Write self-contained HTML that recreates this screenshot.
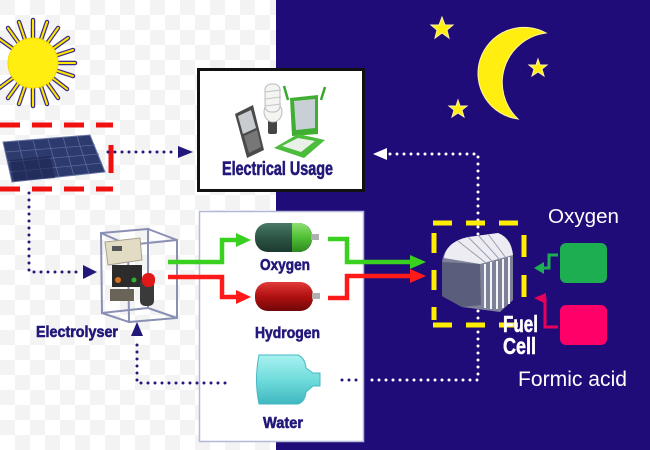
<!DOCTYPE html>
<html><head><meta charset="utf-8"><style>
html,body{margin:0;padding:0;width:650px;height:450px;overflow:hidden;background:#fff}
svg{display:block}
.lbl{font-family:"Liberation Sans",sans-serif;font-weight:bold;fill:#22187a;stroke:#22187a;stroke-width:0.6}
</style></head><body>
<svg width="650" height="450" viewBox="0 0 650 450" xmlns="http://www.w3.org/2000/svg">
<defs>
<pattern id="chk" width="30" height="30" patternUnits="userSpaceOnUse">
<rect width="30" height="30" fill="#ffffff"/>
<rect width="15" height="15" fill="#f3f3f3"/>
<rect x="15" y="15" width="15" height="15" fill="#f3f3f3"/>
</pattern>
<linearGradient id="gTank" x1="0" y1="0" x2="0" y2="1">
<stop offset="0" stop-color="#4a7a66"/><stop offset="0.5" stop-color="#2c5545"/><stop offset="1" stop-color="#1d3a2f"/></linearGradient>
<linearGradient id="gTankL" x1="0" y1="0" x2="0" y2="1">
<stop offset="0" stop-color="#8ee070"/><stop offset="0.5" stop-color="#4fbf35"/><stop offset="1" stop-color="#2f8a20"/></linearGradient>
<linearGradient id="rTank" x1="0" y1="0" x2="0" y2="1">
<stop offset="0" stop-color="#e23a3a"/><stop offset="0.5" stop-color="#b01010"/><stop offset="1" stop-color="#700808"/></linearGradient>
<linearGradient id="wTank" x1="0" y1="0" x2="0" y2="1">
<stop offset="0" stop-color="#a8f2f0"/><stop offset="0.5" stop-color="#70dcdc"/><stop offset="1" stop-color="#3fb8c0"/></linearGradient>
</defs>

<!-- background -->
<rect x="0" y="0" width="650" height="450" fill="url(#chk)"/>
<rect x="276" y="0" width="374" height="450" fill="#200c79"/>

<!-- sun -->
<g stroke-linecap="round">
<g stroke="#3c2f86" stroke-width="4.5" fill="none">
<path d="M33 63 L33 20 M33 63 L47 22 M33 63 L58 28 M33 63 L68 38 M33 63 L73 50 M33 63 L75 63 M33 63 L73 76 M33 63 L67 89 M33 63 L58 98 M33 63 L47 104 M33 63 L33 106 M33 63 L19 104 M33 63 L8 98 M33 63 L-2 89 M33 63 L19 22 M33 63 L8 28 M33 63 L-2 38"/>
</g>
<g stroke="#ffe600" stroke-width="2" fill="none">
<path d="M33 63 L33 20 M33 63 L47 22 M33 63 L58 28 M33 63 L68 38 M33 63 L73 50 M33 63 L75 63 M33 63 L73 76 M33 63 L67 89 M33 63 L58 98 M33 63 L47 104 M33 63 L33 106 M33 63 L19 104 M33 63 L8 98 M33 63 L-2 89 M33 63 L19 22 M33 63 L8 28 M33 63 L-2 38"/>
</g>
<circle cx="33" cy="63" r="25" fill="#ffee10" stroke="#f5d800" stroke-width="1"/>
</g>

<!-- solar panel -->
<polygon points="3,142 90,135 105,172 12,182" fill="#2c3a6e" stroke="#6a78a8" stroke-width="1"/>
<g stroke="#5a6a9a" stroke-width="0.8">
<line x1="6" y1="152" x2="95" y2="145"/><line x1="8" y1="162" x2="99" y2="154"/><line x1="10" y1="172" x2="102" y2="163"/>
<line x1="18" y1="141" x2="28" y2="180"/><line x1="33" y1="140" x2="43" y2="179"/><line x1="48" y1="139" x2="59" y2="177"/><line x1="63" y1="137" x2="74" y2="176"/><line x1="77" y1="136" x2="89" y2="174"/>
</g>
<polygon points="10,160 50,156 55,178 14,181" fill="#1c2550" opacity="0.6"/>

<!-- red dashed box -->
<g stroke="#f01010" stroke-width="5" fill="none">
<line x1="0" y1="125" x2="113" y2="125" stroke-dasharray="20 12"/>
<line x1="0" y1="189" x2="113" y2="189" stroke-dasharray="20 12"/>
<line x1="111" y1="145" x2="111" y2="173"/>
</g>

<!-- dotted arrows navy -->
<g stroke="#22187a" stroke-width="3" stroke-linecap="round" stroke-dasharray="0 7" fill="none">
<line x1="108" y1="152" x2="178" y2="152"/>
<path d="M29 193 V272 H82"/>
<path d="M232 383 H137 V338"/>
<line x1="364" y1="380" x2="342" y2="380"/>
</g>
<g fill="#22187a">
<polygon points="178,146 193,152 178,158"/>
<polygon points="83,265 97,272 83,279"/>
<polygon points="131,336 137,322 143,336"/>
<polygon points="339,374 325,380 339,386"/>
</g>

<!-- dotted white lines -->
<g stroke="#ffffff" stroke-width="3" stroke-linecap="round" stroke-dasharray="0 7" fill="none">
<path d="M390 154 H478 V380 H366"/>
</g>
<polygon points="387,148 373,154 387,160" fill="#ffffff"/>

<!-- electrical usage box -->
<rect x="198.5" y="69.5" width="165" height="121" fill="#ffffff" stroke="#111111" stroke-width="3"/>
<!-- phone -->
<polygon points="235,114 253,105 264,150 247,158" fill="#4a4a4a"/>
<polygon points="238,116 251,110 256,128 243,134" fill="#c8ccd0"/>
<polygon points="244,136 257,130 261,147 249,153" fill="#777"/>
<!-- bulb -->
<rect x="268" y="120" width="9" height="14" fill="#444" rx="2"/>
<g fill="#f4f4f0" stroke="#b8bcc0" stroke-width="1">
<ellipse cx="273" cy="112" rx="9" ry="10"/>
<rect x="265" y="84" width="15" height="28" rx="6"/>
</g>
<g stroke="#c0c4c8" stroke-width="1"><line x1="265" y1="92" x2="281" y2="90"/><line x1="265" y1="99" x2="281" y2="97"/><line x1="265" y1="106" x2="281" y2="104"/></g>
<!-- laptop -->
<line x1="288" y1="100" x2="284" y2="86" stroke="#3aa830" stroke-width="2.5"/>
<line x1="321" y1="100" x2="325" y2="87" stroke="#3aa830" stroke-width="2.5"/>
<polygon points="290,98 318,95 318,134 292,136" fill="#3fae32"/>
<polygon points="294,101 315,99 315,128 296,130" fill="#c8d0d6"/>
<polygon points="274,148 298,134 325,140 304,158" fill="#4cbc3c"/>
<polygon points="282,146 298,138 315,141 301,152" fill="#e8f0e8"/>

<text x="222" y="175" class="lbl" font-size="19" textLength="111" lengthAdjust="spacingAndGlyphs">Electrical Usage</text>

<!-- lower white box -->
<rect x="199.5" y="211.5" width="164" height="230" fill="#ffffff" stroke="#b4b8d8" stroke-width="1.5"/>

<!-- navy dots re-draw over box -->
<g stroke="#22187a" stroke-width="3" stroke-linecap="round" stroke-dasharray="0 7" fill="none">
<line x1="204" y1="383" x2="232" y2="383"/>
<line x1="342" y1="380" x2="362" y2="380"/>
</g>

<!-- tanks -->
<rect x="255" y="223" width="57" height="29" rx="13" fill="url(#gTank)"/>
<path d="M292 223 H299 A13 14.5 0 0 1 299 252 H292 Z" fill="url(#gTankL)"/>
<rect x="311" y="234" width="8" height="6" fill="#b0b0b0"/>
<rect x="255" y="282" width="58" height="29" rx="13" fill="url(#rTank)"/>
<rect x="312" y="293" width="8" height="6" fill="#b0b0b0"/>
<!-- water bottle -->
<path d="M259 355 H298 Q305 358 306 368 L313 373 H320 V386 H313 L306 392 Q305 402 298 404 H259 Q254 380 259 355 Z" fill="url(#wTank)" stroke="#46b8c4" stroke-width="1"/>

<text x="260" y="270" class="lbl" font-size="16" textLength="50" lengthAdjust="spacingAndGlyphs">Oxygen</text>
<text x="255" y="338" class="lbl" font-size="16" textLength="65" lengthAdjust="spacingAndGlyphs">Hydrogen</text>
<text x="263" y="428" class="lbl" font-size="16" textLength="40" lengthAdjust="spacingAndGlyphs">Water</text>

<!-- electrolyser -->
<g fill="none" stroke="#8a90b4" stroke-width="2">
<polygon points="101,233 148,229 148,308 102,313"/>
<polygon points="128,245 177,240 177,318 129,322"/>
<line x1="101" y1="233" x2="128" y2="245"/><line x1="148" y1="229" x2="177" y2="240"/>
<line x1="102" y1="313" x2="129" y2="322"/><line x1="148" y1="308" x2="177" y2="318"/>
</g>
<polygon points="105,242 140,238 142,260 108,265" fill="#e2dcc4" stroke="#a8a090" stroke-width="1"/>
<rect x="112" y="246" width="10" height="5" fill="#555"/>
<rect x="112" y="265" width="30" height="22" fill="#2c2c2c"/>
<rect x="110" y="289" width="24" height="12" fill="#6a6458"/>
<rect x="140" y="278" width="14" height="28" rx="5" fill="#3a3a3a"/>
<rect x="142" y="273" width="13" height="14" rx="6" fill="#e01818"/>
<circle cx="134" cy="280" r="2.5" fill="#30b030"/>
<circle cx="118" cy="280" r="3" fill="#d87020"/>

<text x="36" y="337" class="lbl" font-size="16" textLength="82" lengthAdjust="spacingAndGlyphs">Electrolyser</text>

<!-- green/red pipes -->
<g fill="none" stroke-width="4.5">
<path d="M168 262 H222 V240 H238" stroke="#3ad020"/>
<path d="M168 277 H222 V297 H238" stroke="#ff1a1a"/>
<path d="M328 239 H347 V262 H412" stroke="#3ad020"/>
<path d="M328 298 H347 V276 H412" stroke="#ff1a1a"/>
</g>
<polygon points="236,233 251,240 236,247" fill="#3ad020"/>
<polygon points="236,290 251,297 236,304" fill="#ff1a1a"/>
<polygon points="410,255 426,262 410,269" fill="#3ad020"/>
<polygon points="410,269 426,276 410,283" fill="#ff1a1a"/>

<!-- fuel cell -->
<path d="M442 262 Q444 244 466 238 L498 233 Q512 238 513 256 L513 300 L500 312 L462 307 L442 296 Z" fill="#7e8298"/>
<path d="M444 258 Q446 242 468 237 L498 233 Q511 238 513 255 L480 264 Z" fill="#ececf2"/>
<path d="M442 262 L480 264 L481 305 L462 307 L442 296 Z" fill="#5a5e7c"/>
<g stroke="#f4f4f8" stroke-width="2">
<line x1="485" y1="264" x2="485" y2="308"/><line x1="491" y1="262" x2="491" y2="309"/><line x1="497" y1="261" x2="497" y2="309"/><line x1="503" y1="259" x2="503" y2="308"/><line x1="509" y1="257" x2="509" y2="304"/>
</g>
<g stroke="#9a9eb0" stroke-width="1">
<line x1="458" y1="241" x2="486" y2="263"/><line x1="468" y1="237" x2="493" y2="262"/><line x1="478" y1="235" x2="500" y2="260"/><line x1="488" y1="234" x2="506" y2="258"/>
</g>

<!-- yellow dashed box -->
<g stroke="#ffee00" stroke-width="5" fill="none">
<line x1="433" y1="223" x2="525" y2="223" stroke-dasharray="19 14"/>
<line x1="433" y1="325" x2="525" y2="325" stroke-dasharray="19 14"/>
<line x1="434" y1="233" x2="434" y2="320" stroke-dasharray="20 17"/>
<line x1="524" y1="235" x2="524" y2="310" stroke-dasharray="22 18"/>
</g>

<text x="503" y="332" font-family="Liberation Sans,sans-serif" font-weight="bold" font-size="23" fill="#ffffff" stroke="#ffffff" stroke-width="0.5" textLength="35" lengthAdjust="spacingAndGlyphs">Fuel</text>
<text x="503" y="354" font-family="Liberation Sans,sans-serif" font-weight="bold" font-size="23" fill="#ffffff" stroke="#ffffff" stroke-width="0.5" textLength="33" lengthAdjust="spacingAndGlyphs">Cell</text>

<!-- reactant boxes -->
<rect x="560" y="243" width="47" height="40" rx="6" fill="#1eae52"/>
<rect x="560" y="305" width="47" height="40" rx="6" fill="#ff0068"/>
<path d="M558 255 H549 V268 H542" fill="none" stroke="#1eae52" stroke-width="3"/>
<polygon points="544,262 534,268 544,274" fill="#1eae52"/>
<path d="M558 327 H545 V299 H542" fill="none" stroke="#e8005a" stroke-width="3"/>
<polygon points="546,293 534,298 546,304" fill="#e8005a"/>

<text x="548" y="223" font-family="Liberation Sans,sans-serif" font-size="20" fill="#ffffff" textLength="71" lengthAdjust="spacingAndGlyphs">Oxygen</text>
<text x="518" y="386" font-family="Liberation Sans,sans-serif" font-size="21" fill="#ffffff" textLength="109" lengthAdjust="spacingAndGlyphs">Formic acid</text>

<!-- moon & stars -->
<path d="M546 33 A46 46 0 1 0 518 119 A50 50 0 0 1 546 33 Z" fill="#ffee10" stroke="#fff7a0" stroke-width="1"/>
<g fill="#ffee10" stroke="#fff3a0" stroke-width="1">
<polygon points="442,17 445,25 453,25 447,30 449,38 442,33 435,38 437,30 431,25 439,25"/>
<polygon points="538,59 540,65 547,65 542,69 544,76 538,72 532,76 534,69 529,65 536,65"/>
<polygon points="458,100 460,106 467,106 462,110 464,117 458,113 452,117 454,110 449,106 456,106"/>
</g>
</svg>
</body></html>
